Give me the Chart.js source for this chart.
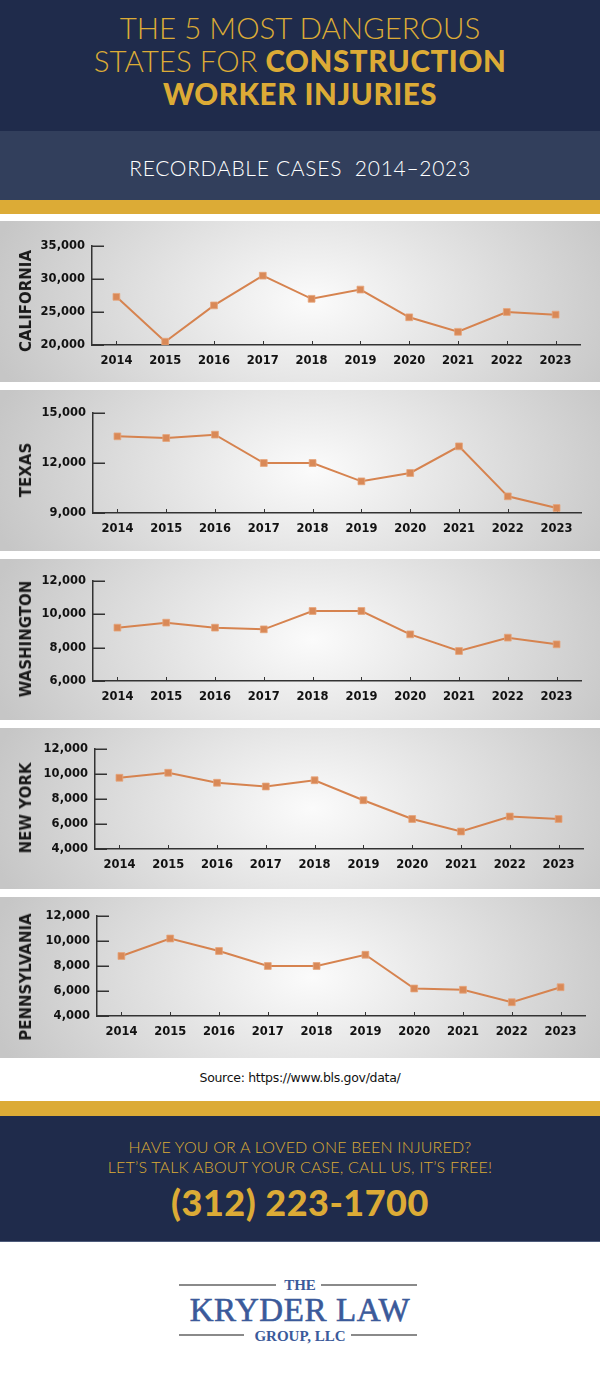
<!DOCTYPE html>
<html>
<head>
<meta charset="utf-8">
<script src="https://cdn.jsdelivr.net/npm/chart.js@4.4.1/dist/chart.umd.min.js"></script>
<style>
  html, body { margin: 0; padding: 0; }
  body { width: 600px; height: 1392px; position: relative; background: #fff; overflow: hidden; font-family: Lato, "DejaVu Sans", sans-serif; }
  .abs { position: absolute; left: 0; width: 600px; }
  .navy { background: #1f2b4b; }
  .gold { background: #dcab36; }
  .title { top: 11px; text-align: center; color: #dcab36; font-size: 29.5px; line-height: 33px; font-weight: 300; letter-spacing: 0px; }
  .title b { font-weight: 900; letter-spacing: 0.6px; }
  .sub { top: 131px; height: 69px; background: #323f5c; }
  .subText { top: 155px; text-align: center; color: #fff; font-size: 21px; line-height: 26px; font-weight: 300; letter-spacing: 0.7px; }
  .panel { height: 161px; background: radial-gradient(ellipse 330px 200px at 52% 50%, #fbfbfb 0%, #c6c6c6 100%); }
  .panel canvas { position: absolute; left: 0; top: 0; }
  .state { position: absolute; left: 26px; top: 80px; transform: translate(-50%, -50%) rotate(-90deg); white-space: nowrap; font-family: "DejaVu Sans", sans-serif; font-weight: bold; font-size: 15px; color: #1a1a1a; }
  .source { top: 1070px; text-align: center; font-size: 12.5px; line-height: 16px; color: #111; font-family: "DejaVu Sans", sans-serif; letter-spacing: -0.3px; }
  .cta { top: 1137px; text-align: center; color: #dcab36; font-size: 16px; line-height: 20px; font-weight: 300; letter-spacing: 0.2px; }
  .phone { top: 1182px; text-align: center; color: #dcab36; font-size: 36px; line-height: 40px; font-weight: 900; letter-spacing: 0.5px; }
  .logo { font-family: "Liberation Serif", "DejaVu Serif", serif; color: #3b5a9a; font-weight: bold; text-align: center; }
  .rule { position: absolute; height: 2px; background: #8a8a8a; }
</style>
</head>
<body>
<div class="abs navy" style="top:0;height:131px"></div>
<div class="abs title">THE 5 MOST DANGEROUS<br>STATES FOR <b>CONSTRUCTION</b><br><b>WORKER INJURIES</b></div>
<div class="abs sub"></div>
<div class="abs subText">RECORDABLE CASES&nbsp; 2014–2023</div>
<div class="abs gold" style="top:200px;height:14px"></div>

<div id="panels"></div>

<div class="abs source">Source: https://www.bls.gov/data/</div>
<div class="abs gold" style="top:1101px;height:15px"></div>
<div class="abs navy" style="top:1116px;height:125px;border-bottom:1px solid #4d5b7a"></div>
<div class="abs cta">HAVE YOU OR A LOVED ONE BEEN INJURED?<br>LET’S TALK ABOUT YOUR CASE, CALL US, IT’S FREE!</div>
<div class="abs phone">(312) 223-1700</div>

<div class="rule" style="left:179px;top:1284px;width:97px"></div>
<div class="rule" style="left:321px;top:1284px;width:96px"></div>
<div class="abs logo" style="top:1276px;font-size:15px;line-height:18px">THE</div>
<div class="abs logo" style="top:1292px;font-size:33px;line-height:36px;font-weight:normal;letter-spacing:0.6px;-webkit-text-stroke:0.6px #3b5a9a">KRYDER LAW</div>
<div class="rule" style="left:179px;top:1334px;width:65px"></div>
<div class="rule" style="left:351px;top:1334px;width:66px"></div>
<div class="abs logo" style="top:1327px;font-size:15px;line-height:18px">GROUP, LLC</div>

<script>
// Shared categories
const years = ['2014', '2015', '2016', '2017', '2018', '2019', '2020', '2021', '2022', '2023'];

// Recordable cases per state
const californiaCases = [27300, 20500, 26000, 30500, 27000, 28400, 24200, 22000, 25000, 24600];
const texasCases = [13600, 13500, 13700, 12000, 12000, 10900, 11400, 13000, 10000, 9300];
const washingtonCases = [9200, 9500, 9200, 9100, 10200, 10200, 8800, 7800, 8600, 8200];
const newYorkCases = [9700, 10100, 9300, 9000, 9500, 7900, 6400, 5400, 6600, 6400];
const pennsylvaniaCases = [8800, 10200, 9200, 8000, 8000, 8900, 6200, 6100, 5100, 6300];

// Y axis ranges [min, max, step]
const californiaRange = [20000, 35000, 5000];
const texasRange = [9000, 15000, 3000];
const washingtonRange = [6000, 12000, 2000];
const newYorkRange = [4000, 12000, 2000];
const pennsylvaniaRange = [4000, 12000, 2000];

const stateNames = ['CALIFORNIA', 'TEXAS', 'WASHINGTON', 'NEW YORK', 'PENNSYLVANIA'];
const stateData = [californiaCases, texasCases, washingtonCases, newYorkCases, pennsylvaniaCases];
const stateRanges = [californiaRange, texasRange, washingtonRange, newYorkRange, pennsylvaniaRange];

// Panel layout (page top, plot area inside the 161px panel)
const panelTops = [221, 390, 559, 728, 897];
const plotBoxes = [
    { top: 25, bottom: 124, left: 92, right: 580 },
    { top: 23, bottom: 123, left: 93, right: 581 },
    { top: 22, bottom: 122, left: 93, right: 581 },
    { top: 21, bottom: 121, left: 95, right: 583 },
    { top: 19, bottom: 119, left: 97, right: 585 }
];
const PANEL_H = 161;

const lineColor = '#d6834f';
const axisColor = '#333333';
const tickFont = { family: '"DejaVu Sans", sans-serif', weight: 'bold', size: 11.5 };

// Short tick marks drawn inside the plot (the reference has them pointing inward)
const innerTicks = {
    id: 'innerTicks',
    beforeDatasetsDraw(chart) {
        const { ctx, chartArea, scales } = chart;
        ctx.save();
        ctx.strokeStyle = axisColor;
        ctx.lineWidth = 1.5;
        scales.y.ticks.forEach((t, i) => {
            const py = Math.round(scales.y.getPixelForTick(i)) + 0.25;
            ctx.beginPath();
            ctx.moveTo(chartArea.left, py);
            ctx.lineTo(chartArea.left + 12, py);
            ctx.stroke();
        });
        ctx.lineWidth = 1;
        scales.x.ticks.forEach((t, i) => {
            const px = Math.round(scales.x.getPixelForTick(i)) + 0.5;
            ctx.beginPath();
            ctx.moveTo(px, chartArea.bottom);
            ctx.lineTo(px, chartArea.bottom - 4);
            ctx.stroke();
        });
        ctx.restore();
    }
};

function buildPanel(i) {
    const box = plotBoxes[i];
    const [yMin, yMax, yStep] = stateRanges[i];

    const panel = document.createElement('div');
    panel.className = 'abs panel';
    panel.style.top = panelTops[i] + 'px';
    const canvas = document.createElement('canvas');
    canvas.width = 600;
    canvas.height = PANEL_H;
    panel.appendChild(canvas);
    const label = document.createElement('div');
    label.className = 'state';
    label.textContent = stateNames[i];
    panel.appendChild(label);
    document.getElementById('panels').appendChild(panel);

    new Chart(canvas.getContext('2d'), {
        type: 'line',
        data: {
            labels: years,
            datasets: [{
                data: stateData[i],
                borderColor: lineColor,
                borderWidth: 2,
                backgroundColor: '#d98957',
                pointStyle: 'rect',
                pointRadius: 4.8,
                pointBorderWidth: 0.8,
                pointBorderColor: '#e6a47b',
                tension: 0
            }]
        },
        options: {
            responsive: false,
            animation: false,
            events: [],
            layout: { padding: { top: box.top, right: 600 - box.right, bottom: 0, left: 0 } },
            plugins: { legend: { display: false }, tooltip: { enabled: false } },
            scales: {
                x: {
                    offset: true,
                    grid: { display: false, drawTicks: false },
                    border: { display: true, color: axisColor, width: 1.5 },
                    ticks: { color: '#111', font: tickFont, padding: 9, maxRotation: 0 },
                    afterFit: s => { s.height = PANEL_H - box.bottom; }
                },
                y: {
                    min: yMin,
                    max: yMax,
                    grid: { display: false, drawTicks: false },
                    border: { display: true, color: axisColor, width: 1.5 },
                    ticks: {
                        stepSize: yStep,
                        color: '#111',
                        font: tickFont,
                        padding: 7,
                        callback: v => v.toLocaleString('en-US')
                    },
                    afterFit: s => { s.width = box.left; }
                }
            }
        },
        plugins: [innerTicks]
    });
}

for (let i = 0; i < stateNames.length; i++) {
    buildPanel(i);
}
</script>
</body>
</html>
